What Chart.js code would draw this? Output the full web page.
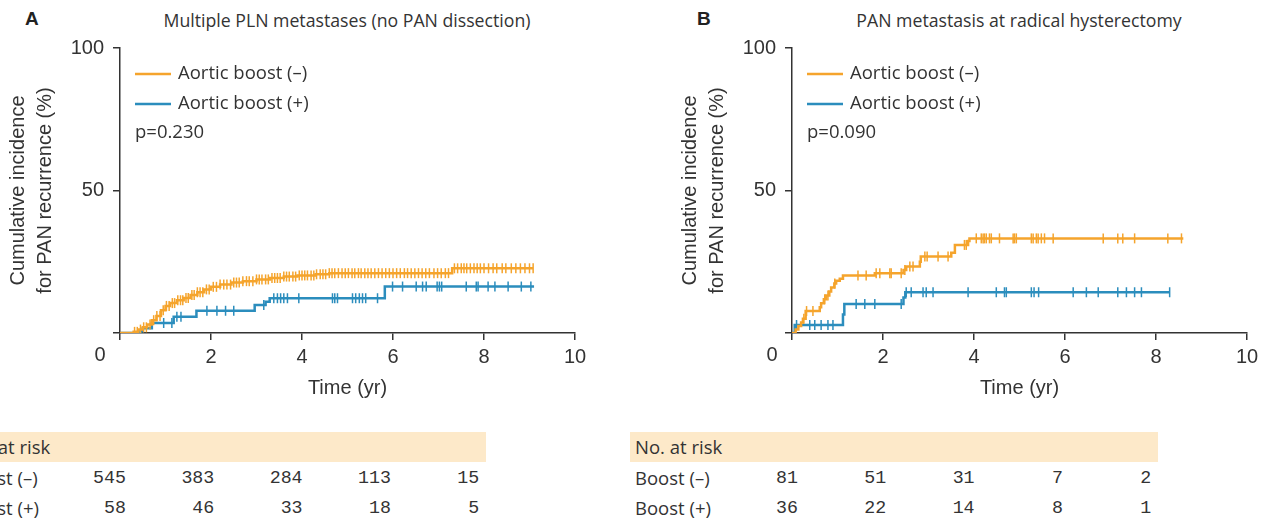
<!DOCTYPE html>
<html>
<head>
<meta charset="utf-8">
<script src="https://cdn.jsdelivr.net/npm/chart.js@4.4.1/dist/chart.umd.min.js"></script>
<style>
  body { margin: 0; background: #fff; width: 1266px; height: 519px; overflow: hidden; position: relative; color: #333; font-family: "Open Sans", sans-serif; }
  .panel { position: absolute; top: 0; width: 630px; height: 410px; }
  .letter { position: absolute; top: 8px; font: bold 19px "Liberation Sans", sans-serif; color: #222; }
  .title { position: absolute; top: 8px; width: 600px; text-align: center; font-size: 17.7px; line-height: 24px; }
  .band { position: absolute; top: 432px; height: 30px; width: 528px; background: #fde9c9; }
  .lbl { position: absolute; font-size: 18.5px; line-height: 24px; white-space: nowrap; }
  .num { position: absolute; width: 60px; text-align: right; font-family: "Liberation Mono", monospace; font-size: 18.3px; line-height: 24px; }
</style>
</head>
<body>
<div class="letter" style="left:25px">A</div>
<div class="letter" style="left:697px">B</div>
<div class="title" style="left:47px">Multiple PLN metastases (no PAN dissection)</div>
<div class="title" style="left:719px">PAN metastasis at radical hysterectomy</div>
<div class="panel" style="left:0"><canvas id="chartA"></canvas></div>
<div class="panel" style="left:672px"><canvas id="chartB"></canvas></div>
<div id="tables"></div>
<script>
// panel A: multiple PLN metastases
const timesA_minus = [0, 0.3, 0.4, 0.5, 0.6, 0.7, 0.8, 0.9, 1.0, 1.1, 1.25, 1.4, 1.55, 1.7, 1.85, 2.0, 2.2, 2.45, 2.7, 3.0, 3.3, 3.6, 3.9, 4.3, 4.6, 7.3, 9.08];
const valuesA_minus = [0, 0.4, 1.2, 2, 3, 4.5, 6, 8, 9.5, 10.5, 11.5, 12.3, 13.3, 14.3, 15.3, 16.2, 17, 17.7, 18.2, 18.8, 19.3, 19.8, 20.2, 20.6, 21, 22.7, 22.7];
const timesA_plus = [0, 0.45, 0.5, 0.7, 1.18, 1.68, 2.96, 3.2, 3.29, 5.82, 9.1];
const valuesA_plus = [0, 0.6, 1.7, 3.5, 5.7, 7.8, 9.8, 11, 12.2, 16.3, 16.3];
const censorA_minus = [0.32, 0.38, 0.45, 0.52, 0.58, 0.66, 0.74, 0.81, 0.88, 0.95, 1.02, 1.08, 1.15, 1.2, 1.27, 1.33, 1.38, 1.45, 1.5, 1.58, 1.63, 1.7, 1.76, 1.82, 1.9, 1.96, 2.05, 2.12, 2.2, 2.28, 2.35, 2.43, 2.5, 2.56, 2.62, 2.7, 2.78, 2.84, 2.92, 3.0, 3.06, 3.12, 3.2, 3.26, 3.34, 3.4, 3.46, 3.52, 3.6, 3.66, 3.72, 3.8, 3.86, 3.94, 4.0, 4.06, 4.12, 4.2, 4.26, 4.32, 4.4, 4.46, 4.52, 4.6, 4.66, 4.72, 4.8, 4.88, 4.95, 5.02, 5.1, 5.16, 5.24, 5.3, 5.38, 5.45, 5.52, 5.6, 5.68, 5.76, 5.84, 5.92, 6.0, 6.08, 6.16, 6.25, 6.32, 6.4, 6.48, 6.56, 6.64, 6.72, 6.8, 6.9, 6.98, 7.06, 7.15, 7.22, 7.35, 7.42, 7.5, 7.56, 7.62, 7.7, 7.78, 7.85, 7.92, 8.0, 8.1, 8.2, 8.28, 8.4, 8.48, 8.6, 8.7, 8.8, 8.9, 9.0, 9.08];
const censorA_plus = [0.96, 1.14, 1.25, 1.34, 1.91, 2.13, 2.32, 2.5, 3.16, 3.38, 3.46, 3.53, 3.6, 3.68, 3.93, 4.67, 4.72, 4.78, 5.11, 5.18, 5.26, 5.33, 5.4, 5.66, 5.99, 6.21, 6.51, 6.65, 6.73, 6.97, 7.02, 7.07, 7.61, 7.83, 7.87, 8.09, 8.24, 8.53, 8.82, 9.03];

// panel B: PAN metastasis at radical hysterectomy
const timesB_minus = [0, 0.08, 0.14, 0.2, 0.24, 0.3, 0.61, 0.64, 0.7, 0.75, 0.82, 0.86, 0.93, 0.97, 1.05, 1.12, 1.82, 2.45, 2.51, 2.81, 2.83, 3.5, 3.58, 3.87, 3.9, 8.6];
const valuesB_minus = [0, 1.2, 2.5, 3.7, 5, 7.7, 9, 10.4, 11.8, 13.2, 14.6, 16, 17.4, 18.3, 19, 20.2, 21, 22.1, 23.3, 25, 26.8, 28.2, 30.9, 32.3, 33.2, 33.2];
const timesB_plus = [0, 0.06, 1.12, 1.15, 2.45, 2.49, 8.3];
const valuesB_plus = [0, 2.8, 6.5, 10.2, 12.5, 14.3, 14.3];
const censorB_minus = [0.26, 0.32, 0.46, 0.72, 0.79, 0.94, 1.45, 1.63, 1.85, 1.93, 2.15, 2.18, 2.4, 2.48, 2.59, 2.66, 2.92, 2.97, 3.21, 3.43, 3.79, 3.83, 4.05, 4.16, 4.2, 4.23, 4.27, 4.34, 4.38, 4.56, 4.86, 4.89, 4.93, 5.26, 5.3, 5.37, 5.41, 5.48, 5.55, 5.74, 6.84, 7.16, 7.27, 7.53, 8.26, 8.56];
const censorB_plus = [0.1, 0.39, 0.5, 0.64, 0.79, 0.9, 1.41, 1.6, 1.82, 2.4, 2.51, 2.62, 2.88, 2.95, 3.1, 3.87, 4.49, 4.67, 4.71, 5.26, 5.32, 5.42, 6.18, 6.47, 6.73, 7.16, 7.35, 7.53, 7.68, 8.3];

// number at risk
const riskTimes = [0, 2, 4, 6, 8];
const riskA_minus = [545, 383, 284, 113, 15];
const riskA_plus = [58, 46, 33, 18, 5];
const riskB_minus = [81, 51, 31, 7, 2];
const riskB_plus = [36, 22, 14, 8, 1];

const orange = "#f5a42c";
const blue = "#2b8dbd";
const ink = "#333";

// value of the step curve at time t
const stepAt = (times, values, t) => {
  let v = 0;
  for (let i = 0; i < times.length; i++) {
    if (times[i] <= t) v = values[i];
  }
  return v;
};

const toPoints = (times, values) => times.map((t, i) => ({ x: t, y: values[i] }));

// legend, p value, axis titles, origin label
const annotations = {
  id: "annotations",
  afterDraw(chart, args, opts) {
    const { ctx, chartArea: a } = chart;
    ctx.save();
    ctx.textBaseline = "middle";
    ctx.fillStyle = ink;
    ctx.font = '18.5px "Open Sans"';
    const items = [[orange, "Aortic boost (\u2013)"], [blue, "Aortic boost (+)"]];
    items.forEach(([c, text], i) => {
      const y = a.top + 26 + i * 30;
      ctx.strokeStyle = c;
      ctx.lineWidth = 2.5;
      ctx.beginPath();
      ctx.moveTo(a.left + 15, y);
      ctx.lineTo(a.left + 51, y);
      ctx.stroke();
      ctx.fillText(text, a.left + 58, y);
    });
    ctx.fillText(opts.p, a.left + 15, a.top + 85);

    ctx.font = '20px "Liberation Sans"';
    ctx.textAlign = "center";
    ctx.fillText("Time (yr)", (a.left + a.right) / 2, a.bottom + 55);
    ctx.fillText("0", a.left - 20, a.bottom + 22);
    ctx.translate(a.left - 88, (a.top + a.bottom) / 2);
    ctx.rotate(-Math.PI / 2);
    ctx.fillText("Cumulative incidence", 0, -14);
    ctx.fillText("for PAN recurrence (%)", 0, 13);
    ctx.restore();
  },
};

const makeChart = (id, p, curves) => {
  const datasets = [];
  curves.forEach(([times, values, censor, color]) => {
    datasets.push({
      type: "line",
      data: toPoints(times, values),
      borderColor: color,
      borderWidth: 2.5,
      stepped: "before",
      pointRadius: 0,
      fill: false,
    });
    datasets.push({
      type: "scatter",
      data: censor.map((t) => ({ x: t, y: stepAt(times, values, t) })),
      borderColor: color,
      backgroundColor: color,
      pointStyle: "line",
      rotation: 90,
      pointRadius: 5,
      borderWidth: 1.5,
    });
  });

  return new Chart(document.getElementById(id), {
    data: { datasets },
    plugins: [annotations],
    options: {
      responsive: true,
      maintainAspectRatio: false,
      animation: false,
      layout: { padding: { left: 0, top: 48, right: 55, bottom: 0 } },
      scales: {
        x: {
          type: "linear",
          min: 0,
          max: 10,
          afterFit: (s) => { s.height = 77; },
          border: { color: ink, width: 1.5 },
          grid: { drawOnChartArea: false, color: ink, lineWidth: 1.5, tickLength: 7 },
          ticks: {
            stepSize: 2,
            padding: 5,
            color: ink,
            font: { family: "Liberation Sans", size: 20 },
            callback: (v) => (v === 0 ? "" : v),
          },
        },
        y: {
          min: 0,
          max: 100,
          afterFit: (s) => { s.width = 120; },
          border: { color: ink, width: 1.5 },
          grid: { drawOnChartArea: false, color: ink, lineWidth: 1.5, tickLength: 7 },
          ticks: {
            stepSize: 50,
            padding: 9,
            color: ink,
            font: { family: "Liberation Sans", size: 20 },
            callback: (v) => (v === 0 ? "" : v),
          },
        },
      },
      plugins: {
        legend: { display: false },
        tooltip: { enabled: false },
        annotations: { p },
      },
    },
  });
};

makeChart("chartA", "p=0.230", [
  [timesA_minus, valuesA_minus, censorA_minus, orange],
  [timesA_plus, valuesA_plus, censorA_plus, blue],
]);
makeChart("chartB", "p=0.090", [
  [timesB_minus, valuesB_minus, censorB_minus, orange],
  [timesB_plus, valuesB_plus, censorB_plus, blue],
]);

// number-at-risk tables under each panel
const buildTable = (origin, rows) => {
  const host = document.getElementById("tables");
  let html = `<div class="band" style="left:${origin - 162}px"></div>`;
  html += `<div class="lbl" style="left:${origin - 157}px;top:435px">No. at risk</div>`;
  rows.forEach(([label, counts], r) => {
    const top = 466 + r * 30;
    html += `<div class="lbl" style="left:${origin - 157}px;top:${top}px">${label}</div>`;
    counts.forEach((n, i) => {
      const right = origin + 6 + i * 88.3;
      html += `<div class="num" style="left:${right - 60}px;top:${top}px">${n}</div>`;
    });
  });
  host.insertAdjacentHTML("beforeend", html);
};
buildTable(120, [["Boost (\u2013)", riskA_minus], ["Boost (+)", riskA_plus]]);
buildTable(792, [["Boost (\u2013)", riskB_minus], ["Boost (+)", riskB_plus]]);
</script>
</body>
</html>
